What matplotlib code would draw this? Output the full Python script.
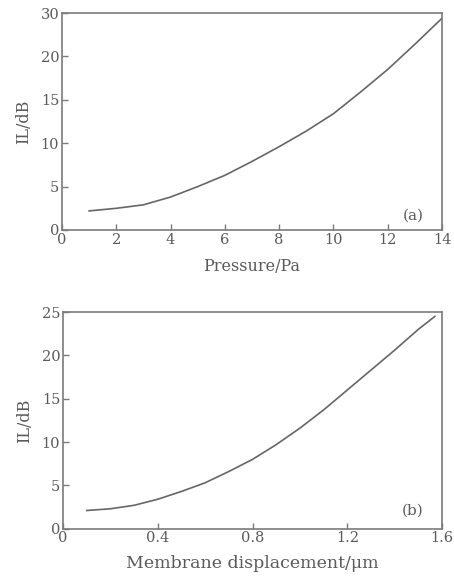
import numpy as np
import matplotlib
matplotlib.use("Agg")
import matplotlib.pyplot as plt

# panel (a): IL vs pressure
pressure = [1, 2, 3, 4, 5, 6, 7, 8, 9, 10, 11, 12, 13, 14]
il_a = [2.2, 2.5, 2.9, 3.8, 5.0, 6.3, 7.9, 9.6, 11.4, 13.4, 15.9, 18.5, 21.4, 24.4]

# panel (b): IL vs membrane displacement
disp = [0.1, 0.2, 0.3, 0.4, 0.5, 0.6, 0.7, 0.8, 0.9, 1.0, 1.1, 1.2, 1.3, 1.4, 1.5, 1.57]
il_b = [2.1, 2.3, 2.7, 3.4, 4.3, 5.3, 6.6, 8.0, 9.7, 11.6, 13.7, 16.0, 18.3, 20.6, 23.0, 24.5]

yticks_a = [0, 5, 10, 15, 20, 25]
ytick_labels_a = ["0", "5", "10", "15", "20", "30"]   # as printed in the original
xticks_a = [0, 2, 4, 6, 8, 10, 12, 14]
yticks_b = [0, 5, 10, 15, 20, 25]
xticks_b = [0, 0.4, 0.8, 1.2, 1.6]
xtick_labels_b = ["0", "0.4", "0.8", "1.2", "1.6"]

plt.rcParams['font.family'] = ['DejaVu Serif']
txt = '#5a5a5a'
edge = '#7a7a7a'

fig = plt.figure(figsize=(4.54, 5.76), dpi=100)
ax1 = fig.add_axes([0.1366, 0.6007, 0.837, 0.3767])
ax2 = fig.add_axes([0.1388, 0.0821, 0.8348, 0.3762])

def style(ax):
    for s in ax.spines.values():
        s.set_color(edge)
        s.set_linewidth(1.2)
    ax.tick_params(direction='in', length=4, width=1, color=edge,
                   labelcolor=txt, labelsize=10.5, pad=2,
                   top=False, right=False)

ax1.plot(pressure, il_a, color='#666666', lw=1.2, solid_joinstyle='round')
ax1.set_xlim(0, 14)
ax1.set_ylim(0, 25)
ax1.set_xticks(xticks_a)
ax1.set_yticks(yticks_a)
ax1.set_yticklabels(ytick_labels_a)
ax1.set_xlabel('Pressure/Pa', fontsize=11.5, color=txt, labelpad=8)
ax1.set_ylabel('IL/dB', fontsize=11.5, color=txt, labelpad=6)
ax1.text(12.95, 1.6, '(a)', fontsize=11, color=txt, ha='center', va='center')
style(ax1)

ax2.plot(disp, il_b, color='#666666', lw=1.2, solid_joinstyle='round')
ax2.set_xlim(0, 1.6)
ax2.set_ylim(0, 25)
ax2.set_xticks(xticks_b)
ax2.set_xticklabels(xtick_labels_b)
ax2.set_yticks(yticks_b)
ax2.set_xlabel('Membrane displacement/\u03bcm', fontsize=12.5, color=txt, labelpad=7)
ax2.set_ylabel('IL/dB', fontsize=11.5, color=txt, labelpad=6)
ax2.text(1.477, 2.1, '(b)', fontsize=11, color=txt, ha='center', va='center')
style(ax2)

plt.savefig('out.png', dpi=100)
